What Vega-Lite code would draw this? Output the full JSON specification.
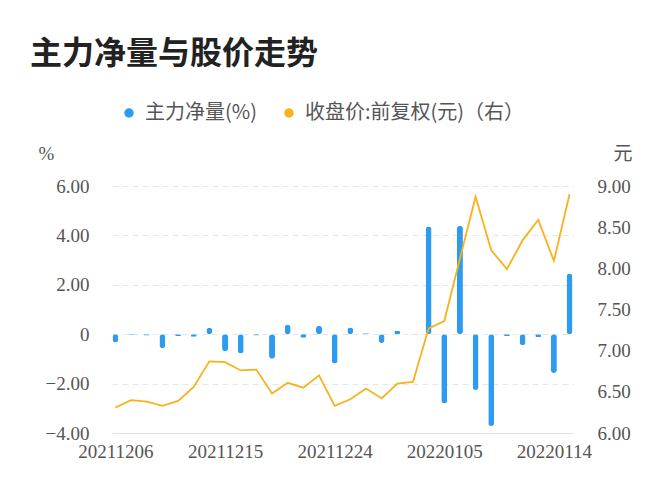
{
  "$schema": "https://vega.github.io/schema/vega-lite/v6.json",
  "width": 461,
  "height": 247,
  "autosize": {"type": "none"},
  "padding": {"left": 112, "top": 186, "right": 99, "bottom": 67},
  "background": "white",
  "title": {
    "text": "主力净量与股价走势",
    "anchor": "start",
    "frame": "group",
    "font": "Noto Sans CJK SC",
    "fontSize": 32,
    "fontWeight": "bold",
    "color": "#222222",
    "dx": -82,
    "offset": 32
  },
  "config": {"view": {"stroke": null}},
  "data": {
    "values": [
      {"date": "20211206", "net": -0.34, "close": 6.31},
      {"date": "20211207", "net": -0.03, "close": 6.40},
      {"date": "20211208", "net": -0.05, "close": 6.38},
      {"date": "20211209", "net": -0.57, "close": 6.33},
      {"date": "20211210", "net": -0.07, "close": 6.39},
      {"date": "20211213", "net": -0.10, "close": 6.56},
      {"date": "20211214", "net": 0.26, "close": 6.87},
      {"date": "20211215", "net": -0.69, "close": 6.86},
      {"date": "20211216", "net": -0.78, "close": 6.76},
      {"date": "20211217", "net": -0.05, "close": 6.77},
      {"date": "20211220", "net": -0.99, "close": 6.48},
      {"date": "20211221", "net": 0.38, "close": 6.61},
      {"date": "20211222", "net": -0.14, "close": 6.55},
      {"date": "20211223", "net": 0.34, "close": 6.70},
      {"date": "20211224", "net": -1.19, "close": 6.33},
      {"date": "20211227", "net": 0.27, "close": 6.41},
      {"date": "20211228", "net": 0.04, "close": 6.54},
      {"date": "20211229", "net": -0.36, "close": 6.42},
      {"date": "20211230", "net": 0.13, "close": 6.60},
      {"date": "20211231", "net": 0.01, "close": 6.62},
      {"date": "20220104", "net": 4.36, "close": 7.27},
      {"date": "20220105", "net": -2.81, "close": 7.36},
      {"date": "20220106", "net": 4.39, "close": 8.12},
      {"date": "20220107", "net": -2.26, "close": 8.87},
      {"date": "20220110", "net": -3.72, "close": 8.22},
      {"date": "20220111", "net": -0.07, "close": 7.99},
      {"date": "20220112", "net": -0.45, "close": 8.34},
      {"date": "20220113", "net": -0.12, "close": 8.59},
      {"date": "20220114", "net": -1.57, "close": 8.09},
      {"date": "20220117", "net": 2.46, "close": 8.90}
    ]
  },
  "encoding": {
    "x": {
      "field": "date",
      "type": "ordinal",
      "sort": null,
      "scale": {"type": "point", "padding": 0.22},
      "axis": {
        "values": ["20211206", "20211215", "20211224", "20220105", "20220114"],
        "labelAngle": 0,
        "ticks": false,
        "domain": true,
        "domainColor": "#e0e0e0",
        "domainWidth": 1,
        "grid": false,
        "labelFont": "Liberation Serif",
        "labelFontSize": 19,
        "labelColor": "#555555",
        "labelPadding": 9,
        "title": null
      }
    }
  },
  "layer": [
    {
      "mark": {"type": "bar", "width": 6, "cornerRadius": 3},
      "encoding": {
        "y": {
          "field": "net",
          "type": "quantitative",
          "scale": {"domain": [-4, 6], "nice": false, "zero": false},
          "axis": {
            "orient": "left",
            "values": [-4, -2, 0, 2, 4, 6],
            "labelExpr": "datum.value == 0 ? '0' : format(datum.value, '.2f')",
            "labelFont": "Liberation Serif",
            "labelFontSize": 19,
            "labelColor": "#555555",
            "labelPadding": 23,
            "ticks": false,
            "domain": false,
            "grid": true,
            "gridDash": [6, 4],
            "gridColor": "#e6e6e6",
            "gridWidth": 1,
            "title": "%",
            "titleAngle": 0,
            "titleX": -66,
            "titleY": -33,
            "titleAlign": "center",
            "titleBaseline": "middle",
            "titleFont": "Liberation Serif",
            "titleFontSize": 19,
            "titleFontWeight": "normal",
            "titleColor": "#555555"
          }
        },
        "color": {
          "datum": "主力净量(%)",
          "type": "nominal",
          "scale": {
            "domain": ["主力净量(%)", "收盘价:前复权(元)（右）"],
            "range": ["#2d9bf0", "#f7b21c"]
          },
          "legend": {
            "orient": "none",
            "legendX": 7,
            "legendY": -83,
            "direction": "horizontal",
            "title": null,
            "symbolType": "circle",
            "symbolSize": 64,
            "labelFont": "Noto Sans CJK SC",
            "labelFontSize": 20,
            "labelColor": "#555555",
            "labelLimit": 400,
            "columnPadding": 22,
            "labelOffset": 6,
            "padding": 0,
            "encode": {
              "symbols": {
                "update": {
                  "fill": {"scale": "color", "field": "value"},
                  "stroke": {"value": "transparent"},
                  "opacity": {"value": 1},
                  "shape": {"value": "circle"}
                }
              }
            }
          }
        }
      }
    },
    {
      "mark": {"type": "line", "strokeWidth": 1.8, "interpolate": "linear"},
      "encoding": {
        "y": {
          "field": "close",
          "type": "quantitative",
          "scale": {"domain": [6, 9], "nice": false, "zero": false},
          "axis": {
            "orient": "right",
            "values": [6, 6.5, 7, 7.5, 8, 8.5, 9],
            "format": ".2f",
            "labelFont": "Liberation Serif",
            "labelFontSize": 19,
            "labelColor": "#555555",
            "labelPadding": 24,
            "ticks": false,
            "domain": false,
            "grid": false,
            "title": "元",
            "titleAngle": 0,
            "titleX": 49.5,
            "titleY": -33,
            "titleAlign": "center",
            "titleBaseline": "middle",
            "titleFont": "Noto Sans CJK SC",
            "titleFontSize": 19,
            "titleFontWeight": "normal",
            "titleColor": "#555555"
          }
        },
        "color": {"datum": "收盘价:前复权(元)（右）", "type": "nominal"}
      }
    }
  ],
  "resolve": {"scale": {"y": "independent"}}
}
